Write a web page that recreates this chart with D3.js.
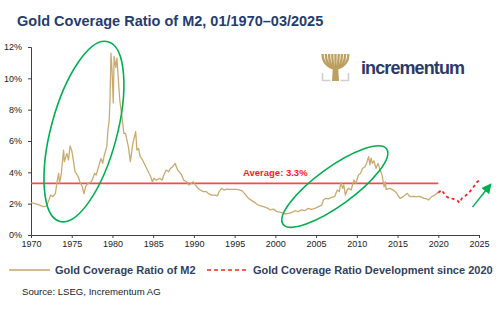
<!DOCTYPE html>
<html>
<head>
<meta charset="utf-8">
<script src="https://cdn.jsdelivr.net/npm/d3@7"></script>
<style>
  body { margin: 0; background: #fff; }
  svg { display: block; font-family: "Liberation Sans", Arial, sans-serif; }
</style>
</head>
<body>
<div id="chart"></div>
<script>
// gold coverage ratio of M2, % (decimal years)
const goldYears = [
  1970.0, 1970.5, 1971.0, 1971.5, 1971.9, 1972.2, 1972.4, 1972.7, 1973.0, 1973.2,
  1973.4, 1973.5, 1973.7, 1974.0, 1974.1, 1974.4, 1974.6, 1974.8, 1975.0, 1975.2,
  1975.4, 1975.8, 1976.0, 1976.3, 1976.5, 1976.7, 1977.0, 1977.4, 1977.6, 1977.8,
  1978.0, 1978.3, 1978.6, 1978.8, 1979.0, 1979.3, 1979.45, 1979.6, 1979.7, 1979.82,
  1979.95, 1980.1, 1980.2, 1980.4, 1980.55, 1980.7, 1980.9, 1981.0, 1981.15, 1981.4,
  1981.6, 1981.95, 1982.2, 1982.5, 1982.6, 1982.85, 1983.0, 1983.2, 1983.4, 1983.7,
  1983.9, 1984.1, 1984.4, 1984.7, 1984.9, 1985.1, 1985.4, 1985.8, 1986.1, 1986.3,
  1986.6, 1986.9, 1987.1, 1987.4, 1987.7, 1988.0, 1988.2, 1988.5, 1988.75, 1989.1,
  1989.4, 1989.7, 1989.9, 1990.2, 1990.5, 1990.8, 1991.15, 1991.5, 1991.75, 1992.2,
  1992.6, 1992.9, 1993.1, 1993.4, 1993.7, 1994.0, 1994.6, 1995.25, 1995.9, 1996.2,
  1996.7, 1997.3, 1997.9, 1998.55, 1999.1, 1999.4, 1999.75, 2000.2, 2000.8, 2001.2,
  2001.6, 2002.0, 2002.4, 2002.8, 2003.2, 2003.6, 2004.05, 2004.45, 2004.85, 2005.3,
  2005.7, 2005.9, 2006.2, 2006.5, 2006.9, 2007.3, 2007.6, 2007.85, 2008.05, 2008.25,
  2008.4, 2008.6, 2008.8, 2009.0, 2009.3, 2009.65, 2009.9, 2010.2, 2010.45, 2010.7,
  2011.0, 2011.2, 2011.45, 2011.6, 2011.75, 2011.9, 2012.1, 2012.35, 2012.6, 2012.8,
  2013.1, 2013.35, 2013.5, 2013.6, 2014.05, 2014.5, 2014.9, 2015.3, 2015.7, 2016.2,
  2016.5, 2016.95, 2017.3, 2017.7, 2018.25, 2018.6, 2018.8, 2019.2, 2019.6, 2019.9,
  2020.0
];
const goldValues = [
  2.06, 2.0, 1.92, 1.81, 1.85, 2.23, 2.55, 2.45, 2.66, 3.4,
  3.93, 3.3, 3.83, 5.42, 4.68, 5.21, 4.8, 5.68, 5.4, 4.79,
  4.04, 3.72, 3.4, 3.08, 2.62, 3.08, 3.3, 3.4, 3.62, 3.93,
  3.83, 4.36, 4.89, 4.57, 5.1, 5.64, 6.7, 7.34, 8.6, 11.6,
  10.5, 8.42, 11.4, 10.7, 11.3, 10.1, 8.6, 8.2, 7.6, 6.49,
  6.49, 5.64, 4.68, 5.85, 6.06, 6.6, 5.42, 5.53, 5.0, 4.79,
  4.57, 4.36, 4.04, 3.72, 3.4, 3.62, 3.5, 3.62, 3.5, 3.83,
  4.15, 4.04, 4.25, 4.36, 4.57, 4.15, 4.04, 3.83, 3.5, 3.4,
  3.19, 3.3, 3.4, 3.19, 2.98, 2.87, 2.77, 2.77, 2.66, 2.55,
  2.55, 2.5, 2.77, 2.98, 2.87, 2.93, 2.91, 2.91, 2.83, 2.66,
  2.34, 2.13, 1.91, 1.81, 1.7, 1.6, 1.65, 1.49, 1.43, 1.34,
  1.38, 1.43, 1.55, 1.49, 1.6, 1.55, 1.7, 1.64, 1.7, 1.81,
  1.91, 2.23, 2.34, 2.3, 2.4, 2.47, 2.87, 2.77, 3.34, 2.98,
  3.19, 2.55, 2.87, 2.98, 2.87, 3.51, 3.3, 3.83, 3.93, 4.25,
  4.36, 4.57, 5.0, 4.47, 4.9, 4.57, 4.74, 4.25, 4.57, 4.25,
  3.83, 3.08, 3.4, 2.91, 2.98, 2.87, 2.66, 2.34, 2.45, 2.66,
  2.45, 2.47, 2.45, 2.47, 2.34, 2.3, 2.23, 2.45, 2.55, 2.7,
  2.7
];
// development since 2020
const devYears = [2020.0, 2020.4, 2020.7, 2021.0, 2021.4, 2021.85, 2022.3, 2022.6, 2022.9, 2023.3, 2023.7, 2024.1, 2024.5, 2024.8, 2025.1];
const devValues = [2.7, 2.87, 2.66, 2.45, 2.34, 2.3, 2.23, 2.06, 2.34, 2.49, 2.66, 2.91, 3.19, 3.4, 3.51];

const average = 3.3;
const averageEnd = 2020;
const xTicks = d3.range(1970, 2026, 5);
const yTicks = [0, 2, 4, 6, 8, 10, 12];

const width = 500, height = 323;
const margin = {top: 47, right: 21, bottom: 88, left: 31};

const svg = d3.select("#chart").append("svg")
  .attr("width", width)
  .attr("height", height);

const x = d3.scaleLinear().domain([1970, 2025]).range([margin.left, width - margin.right]);
const y = d3.scaleLinear().domain([0, 12]).range([height - margin.bottom, margin.top]);

// title
svg.append("text")
  .attr("x", 17).attr("y", 25.5)
  .attr("fill", "#253d6e")
  .attr("font-size", "14.5px")
  .attr("font-weight", "bold")
  .text("Gold Coverage Ratio of M2, 01/1970\u201303/2025");

// logo: tree crown, trunk and grey corners
const logo = svg.append("g").attr("transform", "translate(335.5,68)");
d3.range(-6, 7, 1.5).forEach(i => {
  const tx = i * 2.15;
  logo.append("path")
    .attr("d", `M0,1Q${tx},-2 ${tx},-14`)
    .attr("fill", "none")
    .attr("stroke", "#bd9f60").attr("stroke-width", 2.3);
});
logo.append("path").attr("d", "M-2.5,-2L2.5,-2L3.5,13L-3.5,13Z").attr("fill", "#bd9f60");
logo.append("path").attr("d", "M-13,5V12.5H-5M5,12.5H13V5")
  .attr("fill", "none").attr("stroke", "#d0d0d0").attr("stroke-width", 1.6);
svg.append("text")
  .attr("x", 361).attr("y", 74)
  .attr("fill", "#2b3a67")
  .attr("font-size", "18px")
  .attr("font-weight", "bold")
  .attr("textLength", 104)
  .text("incrementum");

// axes
const yAxis = svg.append("g")
  .attr("transform", `translate(${margin.left},0)`)
  .call(d3.axisLeft(y).tickValues(yTicks).tickFormat(d => d + "%").tickSize(3).tickPadding(6));
const xAxis = svg.append("g")
  .attr("transform", `translate(0,${y(0)})`)
  .call(d3.axisBottom(x).tickValues(xTicks).tickFormat(d3.format("d")).tickSize(3).tickPadding(3));
[yAxis, xAxis].forEach(g => {
  g.select(".domain").attr("stroke", "#404040");
  g.selectAll(".tick line").attr("stroke", "#404040");
  g.selectAll("text").attr("fill", "#222").attr("font-size", "9px")
    .attr("font-family", "'Liberation Sans', Arial, sans-serif");
});

// average
svg.append("line")
  .attr("x1", x(1970)).attr("x2", x(averageEnd))
  .attr("y1", y(average)).attr("y2", y(average))
  .attr("stroke", "#f54a4a").attr("stroke-width", 1.8);
svg.append("text")
  .attr("x", 243).attr("y", y(average) - 7)
  .attr("fill", "#ff1a1a")
  .attr("font-size", "9.5px")
  .attr("font-weight", "bold")
  .text(`Average: ${average}%`);

const line = d3.line().x(d => x(d[0])).y(d => y(d[1]));

svg.append("path")
  .datum(d3.zip(goldYears, goldValues))
  .attr("fill", "none")
  .attr("stroke", "#c9ab70")
  .attr("stroke-width", 1.3)
  .attr("stroke-linejoin", "round")
  .attr("d", line);

svg.append("path")
  .datum(d3.zip(devYears, devValues))
  .attr("fill", "none")
  .attr("stroke", "#ff2222")
  .attr("stroke-width", 1.8)
  .attr("stroke-dasharray", "3,3")
  .attr("d", line);

// green highlight ellipses (center in data units, radii in px, rotation in deg)
const highlights = [
  {year: 1976.5, value: 6.6, rx: 33, ry: 93, rot: 15},
  {year: 2007.3, value: 3.09, rx: 64, ry: 19, rot: -36}
];
svg.selectAll("ellipse.hl")
  .data(highlights)
  .join("ellipse")
  .attr("class", "hl")
  .attr("transform", d => `translate(${x(d.year)},${y(d.value)}) rotate(${d.rot})`)
  .attr("rx", d => d.rx).attr("ry", d => d.ry)
  .attr("fill", "none")
  .attr("stroke", "#00b050")
  .attr("stroke-width", 1.6);

// trend arrow
svg.append("defs").append("marker")
  .attr("id", "arrow")
  .attr("viewBox", "0 0 10 10")
  .attr("refX", 3).attr("refY", 5)
  .attr("markerWidth", 10).attr("markerHeight", 10)
  .attr("markerUnits", "userSpaceOnUse")
  .attr("orient", "auto")
  .append("path").attr("d", "M0,0L10,5L0,10Z").attr("fill", "#00b050");
svg.append("line")
  .attr("x1", x(2024.2)).attr("y1", y(1.78))
  .attr("x2", x(2026.0)).attr("y2", y(2.95))
  .attr("stroke", "#00b050").attr("stroke-width", 1.5)
  .attr("marker-end", "url(#arrow)");

// legend
const legY = 270;
const legend = svg.append("g");
legend.append("line").attr("x1", 9).attr("x2", 50).attr("y1", legY).attr("y2", legY)
  .attr("stroke", "#d2bd92").attr("stroke-width", 2);
legend.append("text").attr("x", 55).attr("y", legY + 4)
  .attr("fill", "#333f5e").attr("font-size", "11px").attr("font-weight", "bold")
  .text("Gold Coverage Ratio of M2");
legend.append("line").attr("x1", 207).attr("x2", 249).attr("y1", legY).attr("y2", legY)
  .attr("stroke", "#ff2222").attr("stroke-width", 1.6).attr("stroke-dasharray", "4,3");
legend.append("text").attr("x", 253).attr("y", legY + 4)
  .attr("fill", "#333f5e").attr("font-size", "11px").attr("font-weight", "bold")
  .text("Gold Coverage Ratio Development since 2020");

svg.append("text")
  .attr("x", 22).attr("y", 295)
  .attr("fill", "#222").attr("font-size", "9.6px")
  .text("Source: LSEG, Incrementum AG");
</script>
</body>
</html>
